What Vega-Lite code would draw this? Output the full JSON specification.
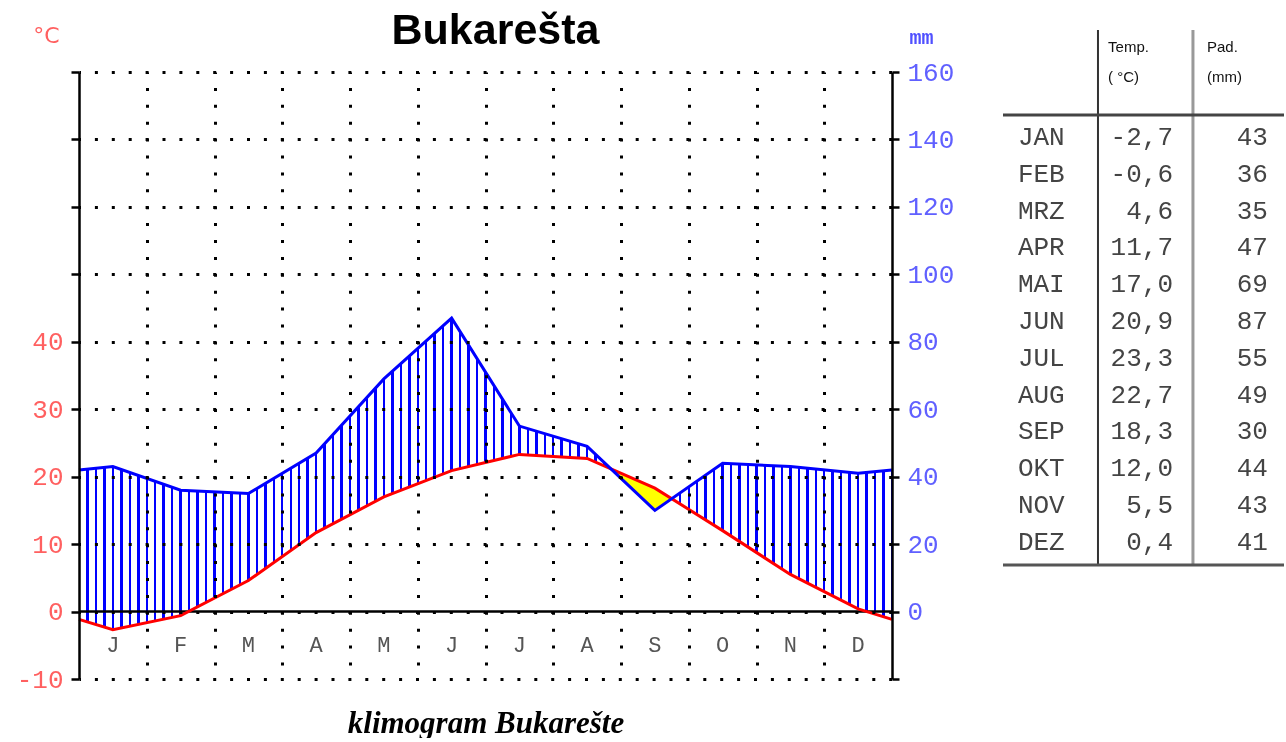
{
"$schema":"https://vega.github.io/schema/vega-lite/v6.json",
"background":"white",
"padding":{"left":16,"top":10,"right":0,"bottom":0},
"bounds":"flush",
"spacing":111,
"config":{"view":{"stroke":null},"locale":{"number":{"decimal":",","thousands":".","grouping":[3],"currency":["","€"],"minus":"-"}}},
"datasets":{"clim":[
{"m":0,"mon":null,"l":null,"temp":-1.15,"precip":42},
{"m":0.5,"mon":"JAN","l":"J","temp":-2.7,"precip":43},
{"m":1.5,"mon":"FEB","l":"F","temp":-0.6,"precip":36},
{"m":2.5,"mon":"MRZ","l":"M","temp":4.6,"precip":35},
{"m":3.5,"mon":"APR","l":"A","temp":11.7,"precip":47},
{"m":4.5,"mon":"MAI","l":"M","temp":17.0,"precip":69},
{"m":5.5,"mon":"JUN","l":"J","temp":20.9,"precip":87},
{"m":6.5,"mon":"JUL","l":"J","temp":23.3,"precip":55},
{"m":7.5,"mon":"AUG","l":"A","temp":22.7,"precip":49},
{"m":8.5,"mon":"SEP","l":"S","temp":18.3,"precip":30},
{"m":9.5,"mon":"OKT","l":"O","temp":12.0,"precip":44},
{"m":10.5,"mon":"NOV","l":"N","temp":5.5,"precip":43},
{"m":11.5,"mon":"DEZ","l":"D","temp":0.4,"precip":41},
{"m":12,"mon":null,"l":null,"temp":-1.15,"precip":42}
]},
"hconcat":[
{
"width":813,"height":607,
"title":{"text":"Bukarešta","font":"Liberation Sans","fontSize":43,"fontWeight":"bold","color":"#000","anchor":"middle","frame":"group","baseline":"alphabetic","offset":-63,"dx":10},
"data":{"name":"clim"},
"layer":[
{"mark":{"type":"area","opacity":1,"fill":{"gradient":"linear","x1":0,"x2":1,"y1":0,"y2":0,"stops":[
{"offset":0,"color":"#00f"},{"offset":0.0015,"color":"#00f"},{"offset":0.0015,"color":"#fff"},
{"offset":0.00892,"color":"#fff"},{"offset":0.00892,"color":"#00f"},{"offset":0.01192,"color":"#00f"},{"offset":0.01192,"color":"#fff"},
{"offset":0.01933,"color":"#fff"},{"offset":0.01933,"color":"#00f"},{"offset":0.02233,"color":"#00f"},{"offset":0.02233,"color":"#fff"},
{"offset":0.02975,"color":"#fff"},{"offset":0.02975,"color":"#00f"},{"offset":0.03275,"color":"#00f"},{"offset":0.03275,"color":"#fff"},
{"offset":0.04017,"color":"#fff"},{"offset":0.04017,"color":"#00f"},{"offset":0.04317,"color":"#00f"},{"offset":0.04317,"color":"#fff"},
{"offset":0.05058,"color":"#fff"},{"offset":0.05058,"color":"#00f"},{"offset":0.05358,"color":"#00f"},{"offset":0.05358,"color":"#fff"},
{"offset":0.061,"color":"#fff"},{"offset":0.061,"color":"#00f"},{"offset":0.064,"color":"#00f"},{"offset":0.064,"color":"#fff"},
{"offset":0.07142,"color":"#fff"},{"offset":0.07142,"color":"#00f"},{"offset":0.07442,"color":"#00f"},{"offset":0.07442,"color":"#fff"},
{"offset":0.08183,"color":"#fff"},{"offset":0.08183,"color":"#00f"},{"offset":0.08483,"color":"#00f"},{"offset":0.08483,"color":"#fff"},
{"offset":0.09225,"color":"#fff"},{"offset":0.09225,"color":"#00f"},{"offset":0.09525,"color":"#00f"},{"offset":0.09525,"color":"#fff"},
{"offset":0.10267,"color":"#fff"},{"offset":0.10267,"color":"#00f"},{"offset":0.10567,"color":"#00f"},{"offset":0.10567,"color":"#fff"},
{"offset":0.11308,"color":"#fff"},{"offset":0.11308,"color":"#00f"},{"offset":0.11608,"color":"#00f"},{"offset":0.11608,"color":"#fff"},
{"offset":0.1235,"color":"#fff"},{"offset":0.1235,"color":"#00f"},{"offset":0.1265,"color":"#00f"},{"offset":0.1265,"color":"#fff"},
{"offset":0.13392,"color":"#fff"},{"offset":0.13392,"color":"#00f"},{"offset":0.13692,"color":"#00f"},{"offset":0.13692,"color":"#fff"},
{"offset":0.14433,"color":"#fff"},{"offset":0.14433,"color":"#00f"},{"offset":0.14733,"color":"#00f"},{"offset":0.14733,"color":"#fff"},
{"offset":0.15475,"color":"#fff"},{"offset":0.15475,"color":"#00f"},{"offset":0.15775,"color":"#00f"},{"offset":0.15775,"color":"#fff"},
{"offset":0.16517,"color":"#fff"},{"offset":0.16517,"color":"#00f"},{"offset":0.16817,"color":"#00f"},{"offset":0.16817,"color":"#fff"},
{"offset":0.17558,"color":"#fff"},{"offset":0.17558,"color":"#00f"},{"offset":0.17858,"color":"#00f"},{"offset":0.17858,"color":"#fff"},
{"offset":0.186,"color":"#fff"},{"offset":0.186,"color":"#00f"},{"offset":0.189,"color":"#00f"},{"offset":0.189,"color":"#fff"},
{"offset":0.19642,"color":"#fff"},{"offset":0.19642,"color":"#00f"},{"offset":0.19942,"color":"#00f"},{"offset":0.19942,"color":"#fff"},
{"offset":0.20683,"color":"#fff"},{"offset":0.20683,"color":"#00f"},{"offset":0.20983,"color":"#00f"},{"offset":0.20983,"color":"#fff"},
{"offset":0.21725,"color":"#fff"},{"offset":0.21725,"color":"#00f"},{"offset":0.22025,"color":"#00f"},{"offset":0.22025,"color":"#fff"},
{"offset":0.22767,"color":"#fff"},{"offset":0.22767,"color":"#00f"},{"offset":0.23067,"color":"#00f"},{"offset":0.23067,"color":"#fff"},
{"offset":0.23808,"color":"#fff"},{"offset":0.23808,"color":"#00f"},{"offset":0.24108,"color":"#00f"},{"offset":0.24108,"color":"#fff"},
{"offset":0.2485,"color":"#fff"},{"offset":0.2485,"color":"#00f"},{"offset":0.2515,"color":"#00f"},{"offset":0.2515,"color":"#fff"},
{"offset":0.25892,"color":"#fff"},{"offset":0.25892,"color":"#00f"},{"offset":0.26192,"color":"#00f"},{"offset":0.26192,"color":"#fff"},
{"offset":0.26933,"color":"#fff"},{"offset":0.26933,"color":"#00f"},{"offset":0.27233,"color":"#00f"},{"offset":0.27233,"color":"#fff"},
{"offset":0.27975,"color":"#fff"},{"offset":0.27975,"color":"#00f"},{"offset":0.28275,"color":"#00f"},{"offset":0.28275,"color":"#fff"},
{"offset":0.29017,"color":"#fff"},{"offset":0.29017,"color":"#00f"},{"offset":0.29317,"color":"#00f"},{"offset":0.29317,"color":"#fff"},
{"offset":0.30058,"color":"#fff"},{"offset":0.30058,"color":"#00f"},{"offset":0.30358,"color":"#00f"},{"offset":0.30358,"color":"#fff"},
{"offset":0.311,"color":"#fff"},{"offset":0.311,"color":"#00f"},{"offset":0.314,"color":"#00f"},{"offset":0.314,"color":"#fff"},
{"offset":0.32142,"color":"#fff"},{"offset":0.32142,"color":"#00f"},{"offset":0.32442,"color":"#00f"},{"offset":0.32442,"color":"#fff"},
{"offset":0.33183,"color":"#fff"},{"offset":0.33183,"color":"#00f"},{"offset":0.33483,"color":"#00f"},{"offset":0.33483,"color":"#fff"},
{"offset":0.34225,"color":"#fff"},{"offset":0.34225,"color":"#00f"},{"offset":0.34525,"color":"#00f"},{"offset":0.34525,"color":"#fff"},
{"offset":0.35267,"color":"#fff"},{"offset":0.35267,"color":"#00f"},{"offset":0.35567,"color":"#00f"},{"offset":0.35567,"color":"#fff"},
{"offset":0.36308,"color":"#fff"},{"offset":0.36308,"color":"#00f"},{"offset":0.36608,"color":"#00f"},{"offset":0.36608,"color":"#fff"},
{"offset":0.3735,"color":"#fff"},{"offset":0.3735,"color":"#00f"},{"offset":0.3765,"color":"#00f"},{"offset":0.3765,"color":"#fff"},
{"offset":0.38392,"color":"#fff"},{"offset":0.38392,"color":"#00f"},{"offset":0.38692,"color":"#00f"},{"offset":0.38692,"color":"#fff"},
{"offset":0.39433,"color":"#fff"},{"offset":0.39433,"color":"#00f"},{"offset":0.39733,"color":"#00f"},{"offset":0.39733,"color":"#fff"},
{"offset":0.40475,"color":"#fff"},{"offset":0.40475,"color":"#00f"},{"offset":0.40775,"color":"#00f"},{"offset":0.40775,"color":"#fff"},
{"offset":0.41517,"color":"#fff"},{"offset":0.41517,"color":"#00f"},{"offset":0.41817,"color":"#00f"},{"offset":0.41817,"color":"#fff"},
{"offset":0.42558,"color":"#fff"},{"offset":0.42558,"color":"#00f"},{"offset":0.42858,"color":"#00f"},{"offset":0.42858,"color":"#fff"},
{"offset":0.436,"color":"#fff"},{"offset":0.436,"color":"#00f"},{"offset":0.439,"color":"#00f"},{"offset":0.439,"color":"#fff"},
{"offset":0.44642,"color":"#fff"},{"offset":0.44642,"color":"#00f"},{"offset":0.44942,"color":"#00f"},{"offset":0.44942,"color":"#fff"},
{"offset":0.45683,"color":"#fff"},{"offset":0.45683,"color":"#00f"},{"offset":0.45983,"color":"#00f"},{"offset":0.45983,"color":"#fff"},
{"offset":0.46725,"color":"#fff"},{"offset":0.46725,"color":"#00f"},{"offset":0.47025,"color":"#00f"},{"offset":0.47025,"color":"#fff"},
{"offset":0.47767,"color":"#fff"},{"offset":0.47767,"color":"#00f"},{"offset":0.48067,"color":"#00f"},{"offset":0.48067,"color":"#fff"},
{"offset":0.48808,"color":"#fff"},{"offset":0.48808,"color":"#00f"},{"offset":0.49108,"color":"#00f"},{"offset":0.49108,"color":"#fff"},
{"offset":0.4985,"color":"#fff"},{"offset":0.4985,"color":"#00f"},{"offset":0.5015,"color":"#00f"},{"offset":0.5015,"color":"#fff"},
{"offset":0.50892,"color":"#fff"},{"offset":0.50892,"color":"#00f"},{"offset":0.51192,"color":"#00f"},{"offset":0.51192,"color":"#fff"},
{"offset":0.51933,"color":"#fff"},{"offset":0.51933,"color":"#00f"},{"offset":0.52233,"color":"#00f"},{"offset":0.52233,"color":"#fff"},
{"offset":0.52975,"color":"#fff"},{"offset":0.52975,"color":"#00f"},{"offset":0.53275,"color":"#00f"},{"offset":0.53275,"color":"#fff"},
{"offset":0.54017,"color":"#fff"},{"offset":0.54017,"color":"#00f"},{"offset":0.54317,"color":"#00f"},{"offset":0.54317,"color":"#fff"},
{"offset":0.55058,"color":"#fff"},{"offset":0.55058,"color":"#00f"},{"offset":0.55358,"color":"#00f"},{"offset":0.55358,"color":"#fff"},
{"offset":0.561,"color":"#fff"},{"offset":0.561,"color":"#00f"},{"offset":0.564,"color":"#00f"},{"offset":0.564,"color":"#fff"},
{"offset":0.57142,"color":"#fff"},{"offset":0.57142,"color":"#00f"},{"offset":0.57442,"color":"#00f"},{"offset":0.57442,"color":"#fff"},
{"offset":0.58183,"color":"#fff"},{"offset":0.58183,"color":"#00f"},{"offset":0.58483,"color":"#00f"},{"offset":0.58483,"color":"#fff"},
{"offset":0.59225,"color":"#fff"},{"offset":0.59225,"color":"#00f"},{"offset":0.59525,"color":"#00f"},{"offset":0.59525,"color":"#fff"},
{"offset":0.60267,"color":"#fff"},{"offset":0.60267,"color":"#00f"},{"offset":0.60567,"color":"#00f"},{"offset":0.60567,"color":"#fff"},
{"offset":0.61308,"color":"#fff"},{"offset":0.61308,"color":"#00f"},{"offset":0.61608,"color":"#00f"},{"offset":0.61608,"color":"#fff"},
{"offset":0.6235,"color":"#fff"},{"offset":0.6235,"color":"#00f"},{"offset":0.6265,"color":"#00f"},{"offset":0.6265,"color":"#fff"},
{"offset":0.63392,"color":"#fff"},{"offset":0.63392,"color":"#00f"},{"offset":0.63692,"color":"#00f"},{"offset":0.63692,"color":"#fff"},
{"offset":0.64433,"color":"#fff"},{"offset":0.64433,"color":"#00f"},{"offset":0.64733,"color":"#00f"},{"offset":0.64733,"color":"#fff"},
{"offset":0.65475,"color":"#fff"},{"offset":0.65475,"color":"#00f"},{"offset":0.65775,"color":"#00f"},{"offset":0.65775,"color":"#fff"},
{"offset":0.66517,"color":"#fff"},{"offset":0.66517,"color":"#00f"},{"offset":0.66817,"color":"#00f"},{"offset":0.66817,"color":"#fff"},
{"offset":0.67558,"color":"#fff"},{"offset":0.67558,"color":"#00f"},{"offset":0.67858,"color":"#00f"},{"offset":0.67858,"color":"#fff"},
{"offset":0.686,"color":"#fff"},{"offset":0.686,"color":"#00f"},{"offset":0.689,"color":"#00f"},{"offset":0.689,"color":"#fff"},
{"offset":0.69642,"color":"#fff"},{"offset":0.69642,"color":"#00f"},{"offset":0.69942,"color":"#00f"},{"offset":0.69942,"color":"#fff"},
{"offset":0.70683,"color":"#fff"},{"offset":0.70683,"color":"#00f"},{"offset":0.70983,"color":"#00f"},{"offset":0.70983,"color":"#fff"},
{"offset":0.71725,"color":"#fff"},{"offset":0.71725,"color":"#00f"},{"offset":0.72025,"color":"#00f"},{"offset":0.72025,"color":"#fff"},
{"offset":0.72767,"color":"#fff"},{"offset":0.72767,"color":"#00f"},{"offset":0.73067,"color":"#00f"},{"offset":0.73067,"color":"#fff"},
{"offset":0.73808,"color":"#fff"},{"offset":0.73808,"color":"#00f"},{"offset":0.74108,"color":"#00f"},{"offset":0.74108,"color":"#fff"},
{"offset":0.7485,"color":"#fff"},{"offset":0.7485,"color":"#00f"},{"offset":0.7515,"color":"#00f"},{"offset":0.7515,"color":"#fff"},
{"offset":0.75892,"color":"#fff"},{"offset":0.75892,"color":"#00f"},{"offset":0.76192,"color":"#00f"},{"offset":0.76192,"color":"#fff"},
{"offset":0.76933,"color":"#fff"},{"offset":0.76933,"color":"#00f"},{"offset":0.77233,"color":"#00f"},{"offset":0.77233,"color":"#fff"},
{"offset":0.77975,"color":"#fff"},{"offset":0.77975,"color":"#00f"},{"offset":0.78275,"color":"#00f"},{"offset":0.78275,"color":"#fff"},
{"offset":0.79017,"color":"#fff"},{"offset":0.79017,"color":"#00f"},{"offset":0.79317,"color":"#00f"},{"offset":0.79317,"color":"#fff"},
{"offset":0.80058,"color":"#fff"},{"offset":0.80058,"color":"#00f"},{"offset":0.80358,"color":"#00f"},{"offset":0.80358,"color":"#fff"},
{"offset":0.811,"color":"#fff"},{"offset":0.811,"color":"#00f"},{"offset":0.814,"color":"#00f"},{"offset":0.814,"color":"#fff"},
{"offset":0.82142,"color":"#fff"},{"offset":0.82142,"color":"#00f"},{"offset":0.82442,"color":"#00f"},{"offset":0.82442,"color":"#fff"},
{"offset":0.83183,"color":"#fff"},{"offset":0.83183,"color":"#00f"},{"offset":0.83483,"color":"#00f"},{"offset":0.83483,"color":"#fff"},
{"offset":0.84225,"color":"#fff"},{"offset":0.84225,"color":"#00f"},{"offset":0.84525,"color":"#00f"},{"offset":0.84525,"color":"#fff"},
{"offset":0.85267,"color":"#fff"},{"offset":0.85267,"color":"#00f"},{"offset":0.85567,"color":"#00f"},{"offset":0.85567,"color":"#fff"},
{"offset":0.86308,"color":"#fff"},{"offset":0.86308,"color":"#00f"},{"offset":0.86608,"color":"#00f"},{"offset":0.86608,"color":"#fff"},
{"offset":0.8735,"color":"#fff"},{"offset":0.8735,"color":"#00f"},{"offset":0.8765,"color":"#00f"},{"offset":0.8765,"color":"#fff"},
{"offset":0.88392,"color":"#fff"},{"offset":0.88392,"color":"#00f"},{"offset":0.88692,"color":"#00f"},{"offset":0.88692,"color":"#fff"},
{"offset":0.89433,"color":"#fff"},{"offset":0.89433,"color":"#00f"},{"offset":0.89733,"color":"#00f"},{"offset":0.89733,"color":"#fff"},
{"offset":0.90475,"color":"#fff"},{"offset":0.90475,"color":"#00f"},{"offset":0.90775,"color":"#00f"},{"offset":0.90775,"color":"#fff"},
{"offset":0.91517,"color":"#fff"},{"offset":0.91517,"color":"#00f"},{"offset":0.91817,"color":"#00f"},{"offset":0.91817,"color":"#fff"},
{"offset":0.92558,"color":"#fff"},{"offset":0.92558,"color":"#00f"},{"offset":0.92858,"color":"#00f"},{"offset":0.92858,"color":"#fff"},
{"offset":0.936,"color":"#fff"},{"offset":0.936,"color":"#00f"},{"offset":0.939,"color":"#00f"},{"offset":0.939,"color":"#fff"},
{"offset":0.94642,"color":"#fff"},{"offset":0.94642,"color":"#00f"},{"offset":0.94942,"color":"#00f"},{"offset":0.94942,"color":"#fff"},
{"offset":0.95683,"color":"#fff"},{"offset":0.95683,"color":"#00f"},{"offset":0.95983,"color":"#00f"},{"offset":0.95983,"color":"#fff"},
{"offset":0.96725,"color":"#fff"},{"offset":0.96725,"color":"#00f"},{"offset":0.97025,"color":"#00f"},{"offset":0.97025,"color":"#fff"},
{"offset":0.97767,"color":"#fff"},{"offset":0.97767,"color":"#00f"},{"offset":0.98067,"color":"#00f"},{"offset":0.98067,"color":"#fff"},
{"offset":0.98808,"color":"#fff"},{"offset":0.98808,"color":"#00f"},{"offset":0.99108,"color":"#00f"},{"offset":0.99108,"color":"#fff"},
{"offset":0.9985,"color":"#fff"},{"offset":0.9985,"color":"#00f"},{"offset":1,"color":"#00f"}
]}},
"encoding":{
"x":{"field":"m","type":"quantitative","scale":{"domain":[0,12],"nice":false,"zero":false},
"axis":{"orient":"bottom","values":[1,2,3,4,5,6,7,8,9,10,11],"grid":true,"gridColor":"#000","gridOpacity":1,"gridWidth":3,"gridDash":[3,13.9],"gridDashOffset":1.5,"ticks":false,"labels":false,"domain":false,"title":"klimogram Bukarešte","titleFont":"Liberation Serif","titleFontSize":31,"titleFontStyle":"italic","titleFontWeight":"bold","titleColor":"#000","titlePadding":29,"zindex":1}},
"y":{"field":"precip","type":"quantitative","scale":{"domain":[-20,160],"nice":false,"zero":false},
"axis":{"orient":"right","values":[-20,0,20,40,60,80,100,120,140,160],"labelExpr":"datum.value >= 0 ? datum.label : ''","grid":false,"domainColor":"#000","domainWidth":2.5,"tickColor":"#000","tickSize":7,"tickWidth":2.5,"labelColor":"#6060ff","labelFont":"Liberation Mono","labelFontSize":26,"labelPadding":8,"title":"mm","titleAngle":0,"titleX":29,"titleY":-35,"titleAlign":"center","titleBaseline":"middle","titleColor":"#5050ff","titleFont":"Liberation Mono","titleFontSize":20,"titleFontWeight":"bold","zindex":1}},
"y2":{"datum":-20}
}},
{"mark":{"type":"area","color":"#ffff00","opacity":1},
"encoding":{
"x":{"field":"m","type":"quantitative","axis":null},
"y":{"field":"temp","type":"quantitative","scale":{"domain":[-10,80],"nice":false,"zero":false},
"axis":{"orient":"left","values":[-10,0,10,20,30,40,50,60,70,80],"labelExpr":"datum.value <= 40 ? datum.label : ''","grid":true,"gridColor":"#000","gridOpacity":1,"gridWidth":3,"gridDash":[3,13.9],"gridDashOffset":1.5,"domainColor":"#000","domainWidth":2.5,"tickColor":"#000","tickSize":8,"tickWidth":2.5,"labelColor":"#ff6060","labelFont":"Liberation Mono","labelFontSize":26,"labelPadding":8,"title":"°C","titleAngle":0,"titleX":-33,"titleY":-37,"titleAlign":"center","titleBaseline":"middle","titleColor":"#ff6060","titleFont":"DejaVu Sans","titleFontSize":22,"titleFontWeight":"normal","zindex":1}},
"y2":{"datum":-10}
}},
{"mark":{"type":"area","color":"#0000ff","opacity":1,"blend":"lighten"},
"encoding":{
"x":{"field":"m","type":"quantitative","axis":null},
"y":{"field":"precip","type":"quantitative","scale":{"domain":[-20,160],"nice":false,"zero":false},"axis":null},
"y2":{"datum":-20}
}},
{"data":{"values":[{}]},"mark":{"type":"rule","color":"#000","strokeWidth":2.5},
"encoding":{"y":{"datum":0,"scale":{"domain":[-10,80],"nice":false,"zero":false},"axis":null}}},
{"mark":{"type":"line","color":"#ff0000","strokeWidth":3},
"encoding":{
"x":{"field":"m","type":"quantitative","axis":null},
"y":{"field":"temp","type":"quantitative","scale":{"domain":[-10,80],"nice":false,"zero":false},"axis":null}
}},
{"mark":{"type":"line","color":"#0000ff","strokeWidth":3},
"encoding":{
"x":{"field":"m","type":"quantitative","axis":null},
"y":{"field":"precip","type":"quantitative","scale":{"domain":[-20,160],"nice":false,"zero":false},"axis":null}
}},
{"transform":[{"filter":"isValid(datum.mon)"}],
"mark":{"type":"text","font":"Liberation Mono","fontSize":22,"color":"#555","baseline":"middle","align":"center"},
"encoding":{
"x":{"field":"m","type":"quantitative","axis":{"orient":"bottom","offset":-67.5,"values":[1,2,3,4,5,6,7,8,9,10,11],"domain":false,"labels":false,"grid":false,"ticks":true,"tickSize":9,"tickWidth":2.5,"tickColor":"#000","title":null}},
"y":{"datum":-5,"scale":{"domain":[-10,80],"nice":false,"zero":false},"axis":null},
"text":{"field":"l"}
}}
],
"resolve":{"scale":{"y":"independent"},"axis":{"x":"independent","y":"independent"}}
},
{
"width":281,"height":493,
"layer":[
{"data":{"values":[{}]},"mark":{"type":"rule","color":"#333","strokeWidth":2},
"encoding":{"x":{"datum":3.38,"scale":{"domain":[0,10],"nice":false,"zero":false},"axis":null},
"y":{"datum":-2.41,"scale":{"domain":[-1.27,12.13],"nice":false,"zero":false,"reverse":true},"axis":null},"y2":{"datum":12.13}}},
{"data":{"values":[{}]},"mark":{"type":"rule","color":"#999","strokeWidth":3},
"encoding":{"x":{"datum":6.76,"scale":{"domain":[0,10],"nice":false,"zero":false},"axis":null},
"y":{"datum":-2.41,"scale":{"domain":[-1.27,12.13],"nice":false,"zero":false,"reverse":true},"axis":null},"y2":{"datum":12.13}}},
{"data":{"values":[{}]},"mark":{"type":"rule","color":"#444","strokeWidth":3},
"encoding":{"y":{"datum":-0.1,"scale":{"domain":[-1.27,12.13],"nice":false,"zero":false,"reverse":true},"axis":null}}},
{"data":{"values":[{}]},"mark":{"type":"rule","color":"#555","strokeWidth":3},
"encoding":{"y":{"datum":12.13,"scale":{"domain":[-1.27,12.13],"nice":false,"zero":false,"reverse":true},"axis":null}}},
{"data":{"values":[{"h":"Temp.","c":3.74,"r":-2.136},{"h":"( °C)","c":3.74,"r":-1.321},{"h":"Pad.","c":7.26,"r":-2.136},{"h":"(mm)","c":7.26,"r":-1.321}]},
"mark":{"type":"text","align":"left","baseline":"top","font":"Liberation Sans","fontSize":15,"color":"#111"},
"encoding":{"x":{"field":"c","type":"quantitative","scale":{"domain":[0,10],"nice":false,"zero":false},"axis":null},
"y":{"field":"r","type":"quantitative","scale":{"domain":[-1.27,12.13],"nice":false,"zero":false,"reverse":true},"axis":null},
"text":{"field":"h"}}},
{"data":{"name":"clim"},"transform":[{"filter":"isValid(datum.mon)"}],
"mark":{"type":"text","align":"left","baseline":"middle","font":"Liberation Mono","fontSize":26,"color":"#444"},
"encoding":{"x":{"datum":0.53,"scale":{"domain":[0,10],"nice":false,"zero":false},"axis":null},
"y":{"field":"m","type":"quantitative","scale":{"domain":[-1.27,12.13],"nice":false,"zero":false,"reverse":true},"axis":null},
"text":{"field":"mon"}}},
{"data":{"name":"clim"},"transform":[{"filter":"isValid(datum.mon)"}],
"mark":{"type":"text","align":"right","baseline":"middle","font":"Liberation Mono","fontSize":26,"color":"#444"},
"encoding":{"x":{"datum":6.05,"scale":{"domain":[0,10],"nice":false,"zero":false},"axis":null},
"y":{"field":"m","type":"quantitative","scale":{"domain":[-1.27,12.13],"nice":false,"zero":false,"reverse":true},"axis":null},
"text":{"field":"temp","type":"quantitative","format":".1f"}}},
{"data":{"name":"clim"},"transform":[{"filter":"isValid(datum.mon)"}],
"mark":{"type":"text","align":"right","baseline":"middle","font":"Liberation Mono","fontSize":26,"color":"#444"},
"encoding":{"x":{"datum":9.43,"scale":{"domain":[0,10],"nice":false,"zero":false},"axis":null},
"y":{"field":"m","type":"quantitative","scale":{"domain":[-1.27,12.13],"nice":false,"zero":false,"reverse":true},"axis":null},
"text":{"field":"precip","type":"quantitative","format":"d"}}}
]
}
]
}
